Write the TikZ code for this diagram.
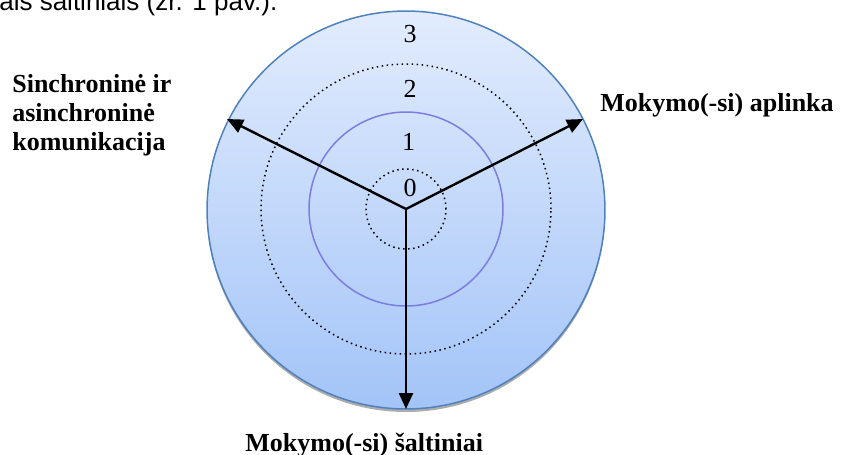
\documentclass[tikz,border=0pt]{standalone}
\usepackage{fontspec}
\setmainfont{Liberation Serif}
\newfontfamily\textsans{Liberation Sans}
\usetikzlibrary{arrows.meta}

\definecolor{discedge}{RGB}{79,129,189}
\definecolor{disctop}{RGB}{226,236,253}
\definecolor{discbottom}{RGB}{163,196,248}
\definecolor{ringpurple}{RGB}{125,125,225}

\begin{document}
\begin{tikzpicture}[
    x=0.02cm, y=-0.02cm,
    level/.style={font=\fontsize{14.8}{16}\selectfont, anchor=base, inner sep=0pt},
    axislabel/.style={font=\bfseries\fontsize{14.8}{16.5}\selectfont, inner sep=0pt, align=left},
    arrow/.style={-{Triangle[length=0.32cm, width=0.28cm]}, line width=0.048cm},
    dotring/.style={draw, line width=0.03cm, dotted}
]
\useasboundingbox (0,0) rectangle (841,454);
\clip (0,0) rectangle (841,454);

% line of running text cut by the top edge
\node[anchor=base west, inner sep=0pt, font=\textsans\fontsize{14.8}{16}\selectfont] (caption) at (-1,10) {ais šaltiniais (žr. 1 pav.).};

\coordinate (c) at (406,209);

% disc with shadow
\fill[gray!65] (406,213) circle [radius=3.98cm];
\draw[discedge, line width=0.03cm, top color=disctop, bottom color=discbottom] (406,210) circle [radius=3.98cm];

% rings
\draw[dotring] (c) circle [radius=2.9cm];
\draw[ringpurple, line width=0.03cm] (c) circle [radius=1.94cm];
\draw[dotring] (c) circle [radius=0.8cm];

% level numbers
\node[level] (l3) at (410,42.5) {3};
\node[level] (l2) at (410,97.5) {2};
\node[level] (l1) at (408.5,150) {1};
\node[level] (l0) at (410,196) {0};

% axes
\coordinate (env) at (583,119);
\coordinate (comm) at (227,119);
\coordinate (src) at (406,409);
\draw[arrow] (c) -- (env);
\draw[arrow] (c) -- (comm);
\draw[arrow] (c) -- (src);

\node[axislabel, anchor=base west] (envlabel) at (600,111) {Mokymo(-si) aplinka};
\node[axislabel, anchor=north west] (commlabel) at (12,74) {Sinchroninė ir\\asinchroninė\\komunikacija};
\node[axislabel, anchor=base west] (srclabel) at (245,451) {Mokymo(-si) šaltiniai};
\end{tikzpicture}
\end{document}
